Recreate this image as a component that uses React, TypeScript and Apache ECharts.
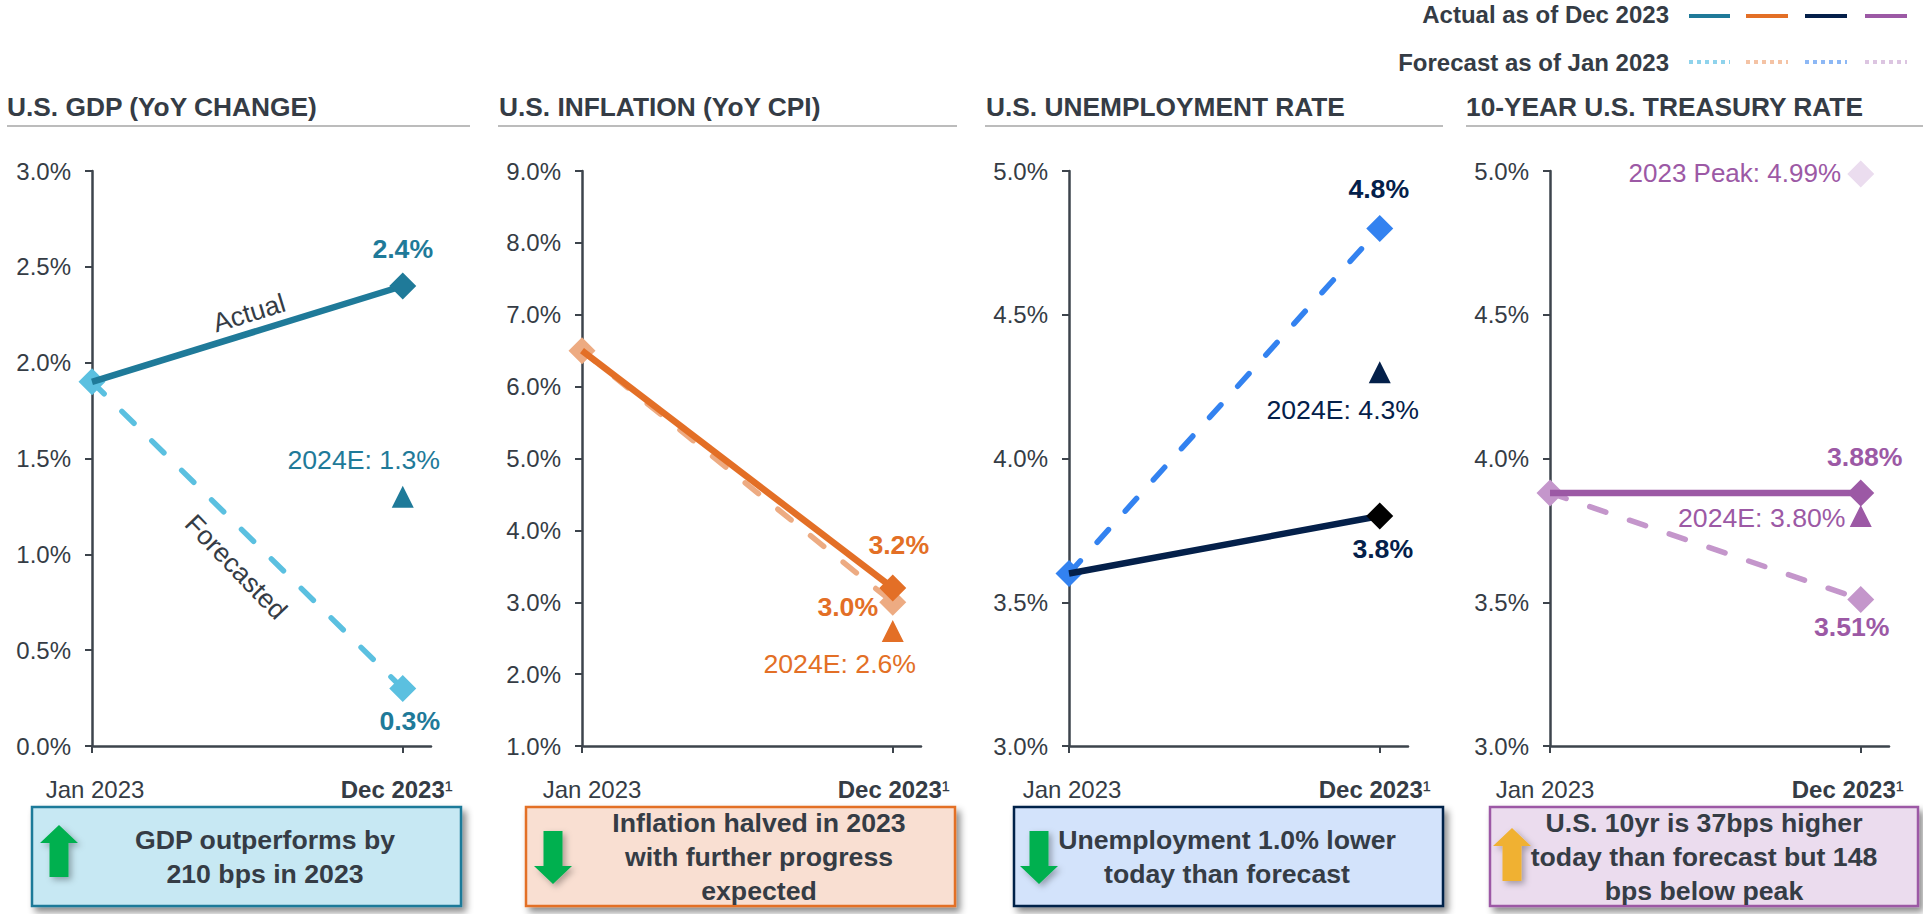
import React, { useEffect, useRef } from "react";
import * as echarts from "echarts";

const months = ["Jan 2023","Feb 2023","Mar 2023","Apr 2023","May 2023","Jun 2023","Jul 2023","Aug 2023","Sep 2023","Oct 2023","Nov 2023","Dec 2023","Jan 2024"];
const JAN = months[0];
const DEC = months[11];

const gdpActual = [1.9, 2.4];
const gdpForecast = [1.9, 0.3];
const gdp2024E = 1.3;
const cpiActual = [6.5, 3.2];
const cpiForecast = [6.5, 3.0];
const cpi2024E = 2.6;
const unempActual = [3.6, 3.8];
const unempForecast = [3.6, 4.8];
const unemp2024E = 4.3;
const tsyActual = [3.88, 3.88];
const tsyForecast = [3.88, 3.51];
const tsy2024E = 3.8;
const tsyPeak = 4.99;

const titles = ["U.S. GDP (YoY CHANGE)", "U.S. INFLATION (YoY CPI)", "U.S. UNEMPLOYMENT RATE", "10-YEAR U.S. TREASURY RATE"];
const callouts = [
  "GDP outperforms by\n210 bps in 2023",
  "Inflation halved in 2023\nwith further progress\nexpected",
  "Unemployment 1.0% lower\ntoday than forecast",
  "U.S. 10yr is 37bps higher\ntoday than forecast but 148\nbps below peak",
];

const FONT = "Liberation Sans";
const INK = "#353C45";
const AXIS = "#3D444C";
const TOP = 171;
const BOTTOM = 746;
const BIG = 26.67;

type Off = [number, number];
const panels = [
  { left: 92, right: 431, min: 0, max: 3, step: 0.5, decimals: 1, color: "#1F7A99", fc: "#5BC0E0", endColor: "#1F7A99", fcLabel: "#1F7A99",
    actual: gdpActual, forecast: gdpForecast, est: gdp2024E, aOff: [0, -37] as Off, fOff: [7, 32] as Off, eOff: [-39, -37] as Off, janPad: [0, 6], decPad: [0, 12],
    title: 7, rule: [7, 470], box: [32, 461], fill: "#C7E8F3", textX: 265, arrow: { x: 59, y0: 825, y1: 877, up: true, c: "#00B050" } },
  { left: 582, right: 921, min: 1, max: 9, step: 1, decimals: 1, color: "#E36F26", fc: "#EDAB82", endColor: "#E36F26", fcLabel: "#E36F26",
    actual: cpiActual, forecast: cpiForecast, est: cpi2024E, aOff: [6, -43] as Off, fOff: [-45, 5] as Off, eOff: [-53, 33] as Off, janPad: [0, 20], decPad: [2, 0],
    title: 499, rule: [498, 957], box: [526, 955], fill: "#F9DFD2", textX: 759, arrow: { x: 553, y0: 831, y1: 884, up: false, c: "#00B050" } },
  { left: 1069, right: 1408, min: 3, max: 5, step: 0.5, decimals: 1, color: "#04204A", fc: "#3382F0", endColor: "#000000", fcLabel: "#04204A",
    actual: unempActual, forecast: unempForecast, est: unemp2024E, aOff: [3, 33] as Off, fOff: [-1, -40] as Off, eOff: [-37, 38] as Off, janPad: [0, 6], decPad: [0, 10],
    title: 986, rule: [985, 1443], box: [1014, 1443], fill: "#D3E3FB", textX: 1227, arrow: { x: 1039, y0: 831, y1: 884, up: false, c: "#00B050" } },
  { left: 1550, right: 1889, min: 3, max: 5, step: 0.5, decimals: 2, color: "#9C59A5", fc: "#C496CB", endColor: "#9C59A5", fcLabel: "#9C59A5",
    actual: tsyActual, forecast: tsyForecast, est: tsy2024E, aOff: [4, -36] as Off, fOff: [-9, 28] as Off, eOff: [-99, 2] as Off, janPad: [10, 0], decPad: [0, 26],
    title: 1466, rule: [1466, 1923], box: [1490, 1918], fill: "#EBDCEE", textX: 1704, arrow: { x: 1512, y0: 828, y1: 881, up: true, c: "#F0B132" } },
];

const legendSolid = ["#1F7A99", "#E36F26", "#04204A", "#9C59A5"];
const legendDotted = ["#8FD3EC", "#F4C3A5", "#8DB8F5", "#DCC5E1"];
const legendX = [[1689, 1730], [1746, 1788], [1805, 1847], [1865, 1907]];

function valueLabel(text: string, color: string, offset: Off, bold: boolean, size = BIG) {
  return {
    show: true,
    position: "inside",
    offset,
    formatter: text,
    color,
    fontFamily: FONT,
    fontSize: size,
    fontWeight: bold ? "bold" : "normal",
    align: "center",
    verticalAlign: "middle",
  };
}

function arrowPoints(a: { x: number; y0: number; y1: number; up: boolean }) {
  const hw = 19, sw = 9.5, head = 18;
  if (a.up) {
    return [[a.x, a.y0], [a.x + hw, a.y0 + head], [a.x + sw, a.y0 + head], [a.x + sw, a.y1], [a.x - sw, a.y1], [a.x - sw, a.y0 + head], [a.x - hw, a.y0 + head]];
  }
  return [[a.x, a.y1], [a.x + hw, a.y1 - head], [a.x + sw, a.y1 - head], [a.x + sw, a.y0], [a.x - sw, a.y0], [a.x - sw, a.y1 - head], [a.x - hw, a.y1 - head]];
}

function buildOption() {
  const grid = panels.map((p) => ({ left: p.left, width: p.right - p.left, top: TOP, height: BOTTOM - TOP, containLabel: false }));
  const xAxis = panels.map((p, i) => ({
    type: "category",
    gridIndex: i,
    data: months,
    boundaryGap: false,
    axisLine: { onZero: false, lineStyle: { color: AXIS, width: 2.5 } },
    axisTick: { show: true, length: 7, interval: (idx: number) => idx === 0 || idx === 11, lineStyle: { color: AXIS, width: 2 } },
    splitLine: { show: false },
    axisLabel: {
      show: true,
      interval: (idx: number) => idx === 0 || idx === 11,
      margin: 31,
      hideOverlap: false,
      formatter: (v: string) => (v === JAN ? `{jan|${v}}` : `{dec|${v}}{sup|¹}`),
      rich: {
        jan: { fontFamily: FONT, fontSize: 24, color: INK, padding: [0, p.janPad[0], 0, p.janPad[1]] },
        dec: { fontFamily: FONT, fontSize: 24, fontWeight: "bold", color: INK, padding: [0, 0, 0, p.decPad[0]] },
        sup: { fontFamily: FONT, fontSize: 24, color: INK, padding: [0, p.decPad[1], 0, 0] },
      },
    },
  }));
  const yAxis = panels.map((p, i) => ({
    type: "value",
    gridIndex: i,
    min: p.min,
    max: p.max,
    interval: p.step,
    splitLine: { show: false },
    axisLine: { show: true, lineStyle: { color: AXIS, width: 2.5 } },
    axisTick: { show: true, length: 7, lineStyle: { color: AXIS, width: 2 } },
    axisLabel: { margin: 21, fontFamily: FONT, fontSize: 24, color: INK, formatter: (v: number) => `${v.toFixed(1)}%` },
  }));

  const series: any[] = [];
  panels.forEach((p, i) => {
    const fmt = (v: number) => `${v.toFixed(p.decimals)}%`;
    series.push({
      type: "line", xAxisIndex: i, yAxisIndex: i, z: 2, clip: false, silent: true,
      symbol: "diamond", symbolSize: 27, showAllSymbol: true,
      itemStyle: { color: p.fc },
      lineStyle: { color: p.fc, width: 5.5, type: [17, 25], cap: "round" },
      data: [
        { value: [JAN, p.forecast[0]] },
        { value: [DEC, p.forecast[1]], label: valueLabel(fmt(p.forecast[1]), p.fcLabel, p.fOff, true) },
      ],
    });
    series.push({
      type: "line", xAxisIndex: i, yAxisIndex: i, z: 3, clip: false, silent: true,
      symbol: "diamond", symbolSize: 27, showAllSymbol: true,
      itemStyle: { color: p.endColor },
      lineStyle: { color: p.color, width: 6.5 },
      data: [
        { value: [JAN, p.actual[0]], symbol: "none" },
        { value: [DEC, p.actual[1]], label: valueLabel(fmt(p.actual[1]), p.color, p.aOff, true) },
      ],
    });
    series.push({
      type: "line", xAxisIndex: i, yAxisIndex: i, z: 3, clip: false, silent: true,
      symbol: "triangle", symbolSize: 22, showAllSymbol: true,
      itemStyle: { color: p.color },
      lineStyle: { width: 0 },
      data: [{ value: [DEC, p.est], label: valueLabel(`2024E: ${fmt(p.est)}`, p.color, p.eOff, false) }],
    });
  });
  series.push({
    type: "line", xAxisIndex: 3, yAxisIndex: 3, z: 3, clip: false, silent: true,
    symbol: "diamond", symbolSize: 27, showAllSymbol: true,
    itemStyle: { color: "#EBDDEF" },
    lineStyle: { width: 0 },
    data: [{ value: [DEC, tsyPeak], label: valueLabel(`2023 Peak: ${tsyPeak.toFixed(2)}%`, "#9C59A5", [-126, -1], false, 26) }],
  });

  const graphic: any[] = [];
  const text = (t: string, x: number, y: number, o: any = {}, rotation = 0) => ({
    type: "text", x, y, rotation, z: 10, silent: true,
    style: { text: t, fontFamily: FONT, fontSize: BIG, fill: INK, align: "center", verticalAlign: "middle", ...o },
  });
  panels.forEach((p, i) => {
    graphic.push(text(titles[i], p.title, 107, { fontWeight: "bold", align: "left", fontSize: 26.3 }));
    graphic.push({ type: "line", z: 1, silent: true, shape: { x1: p.rule[0], y1: 126, x2: p.rule[1], y2: 126 }, style: { stroke: "#A6A6A6", lineWidth: 1.5 } });
    graphic.push({
      type: "rect", z: 5, silent: true,
      shape: { x: p.box[0], y: 807, width: p.box[1] - p.box[0], height: 99 },
      style: { fill: p.fill, stroke: p.color, lineWidth: 2.5, shadowBlur: 7, shadowColor: "rgba(0,0,0,0.45)", shadowOffsetX: 4, shadowOffsetY: 5 },
    });
    graphic.push({
      type: "polygon", z: 6, silent: true,
      shape: { points: arrowPoints(p.arrow) },
      style: { fill: p.arrow.c, shadowBlur: 6, shadowColor: "rgba(0,0,0,0.3)", shadowOffsetX: 3, shadowOffsetY: 3 },
    });
    graphic.push(text(callouts[i], p.textX, 857, { fontWeight: "bold", lineHeight: 34 }));
    graphic.push({ type: "line", z: 4, silent: true, shape: { x1: legendX[i][0], y1: 16, x2: legendX[i][1], y2: 16 }, style: { stroke: legendSolid[i], lineWidth: 4 } });
    graphic.push({ type: "line", z: 4, silent: true, shape: { x1: legendX[i][0], y1: 62, x2: legendX[i][1], y2: 62 }, style: { stroke: legendDotted[i], lineWidth: 4, lineDash: [4, 4] } });
  });
  graphic.push(text("Actual as of Dec 2023", 1669, 14, { fontWeight: "bold", fontSize: 24, align: "right" }));
  graphic.push(text("Forecast as of Jan 2023", 1669, 62, { fontWeight: "bold", fontSize: 24, align: "right" }));
  graphic.push(text("Actual", 249, 313, {}, (17 * Math.PI) / 180));
  graphic.push(text("Forecasted", 236, 567, {}, (-46 * Math.PI) / 180));

  return { animation: false, backgroundColor: "#FFFFFF", tooltip: { show: false }, legend: { show: false }, grid, xAxis, yAxis, series, graphic };
}

export default function App() {
  const ref = useRef<HTMLDivElement>(null);
  useEffect(() => {
    document.body.style.margin = "0";
    const chart = echarts.init(ref.current!, undefined, { renderer: "svg" });
    chart.setOption(buildOption() as any);
    return () => chart.dispose();
  }, []);
  return <div ref={ref} style={{ width: 1923, height: 914, position: "absolute", left: 0, top: 0 }} />;
}
